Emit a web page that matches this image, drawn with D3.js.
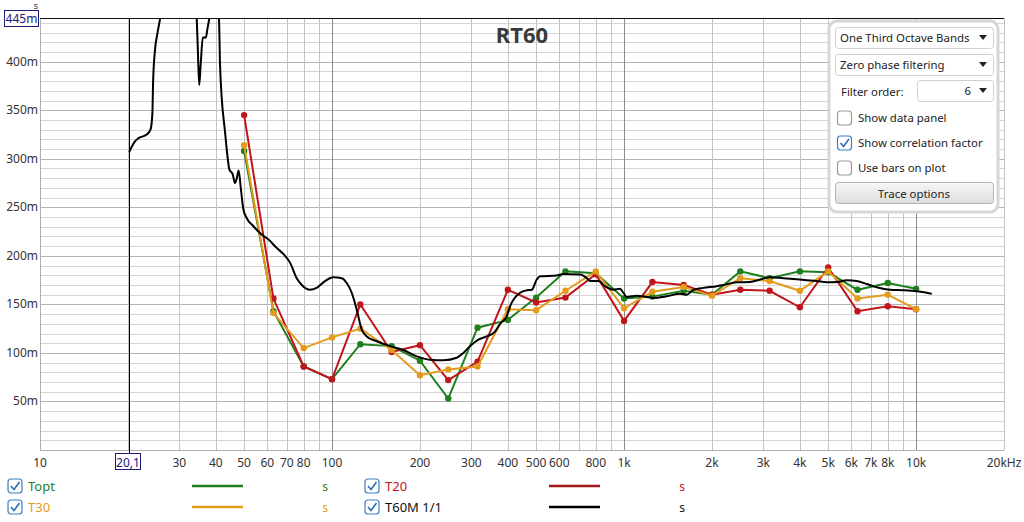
<!DOCTYPE html>
<html>
<head>
<meta charset="utf-8">
<script src="https://cdn.jsdelivr.net/npm/d3@7"></script>
<style>
  body { margin: 0; background: #fff; }
  svg { display: block; font-family: "Noto Sans", "DejaVu Sans", sans-serif; }
</style>
</head>
<body>
<div id="chart"></div>
<script>
// third octave bands
const bandFreqs = [50, 63, 80, 100, 125, 160, 200, 250, 315, 400, 500, 630, 800, 1000,
  1250, 1600, 2000, 2500, 3150, 4000, 5000, 6300, 8000, 10000];
const toptValues = [0.308, 0.143, 0.086, 0.073, 0.109, 0.107, 0.092, 0.053, 0.126, 0.134, 0.157, 0.184,
  0.182, 0.156, 0.158, 0.164, 0.160, 0.184, 0.177, 0.184, 0.183, 0.165, 0.172, 0.166];
const t20Values = [0.345, 0.156, 0.086, 0.073, 0.150, 0.101, 0.108, 0.072, 0.091, 0.165, 0.152, 0.157,
  0.181, 0.133, 0.173, 0.170, 0.160, 0.165, 0.164, 0.147, 0.188, 0.143, 0.148, 0.145];
const t30Values = [0.314, 0.141, 0.105, 0.116, 0.125, 0.103, 0.077, 0.083, 0.086, 0.145, 0.144, 0.164,
  0.184, 0.146, 0.163, 0.168, 0.159, 0.177, 0.174, 0.164, 0.184, 0.156, 0.160, 0.145];

// T60M curve (fine resolution)
const t60mFreqs = [20.2, 21.15, 21.7, 23.2, 23.9, 24.25, 24.4, 24.8, 25.2, 25.8, 27.9, 32.6, 34.4, 34.7,
  35.1, 35.5, 36.1, 37.0, 37.4, 38.0, 38.8, 40.1, 41.0, 41.35, 41.9, 43.0, 43.8, 44.5, 45.7, 46.5, 47.2,
  47.9, 48.7, 49.7, 51.0, 53.8, 57.4, 60.5, 64.7, 68.1, 71.8, 75.7, 78.8, 84.1, 88.6, 94.6, 101, 108,
  112.3, 116.8, 121.5, 126.4, 131.5, 142.3, 158, 175.5, 195, 216.6, 240.6, 267.4, 281.7, 296.9, 317,
  338.8, 361.6, 376.2, 396.6, 407, 440.4, 464.4, 483, 502.3, 515.6, 588.2, 619.6, 707, 745.5, 764.7,
  816.6, 860.9, 919, 968.9, 994.5, 1021, 1105, 1196, 1260, 1400, 1555, 1639, 1727, 1869, 2077, 2189,
  2432, 2701, 2923, 3162, 3513, 4006, 4569, 4946, 5351, 5790, 6265, 6780, 7335, 8147, 9046, 10050,
  10880, 11320];
const t60mValues = [0.307, 0.318, 0.321, 0.325, 0.330, 0.346, 0.380, 0.414, 0.428, 0.445, 0.52, 0.52,
  0.445, 0.414, 0.376, 0.397, 0.425, 0.425, 0.433, 0.445, 0.47, 0.47, 0.445, 0.397, 0.363, 0.328, 0.304,
  0.289, 0.284, 0.275, 0.280, 0.288, 0.270, 0.248, 0.239, 0.2305, 0.222, 0.217, 0.208, 0.202, 0.193,
  0.177, 0.170, 0.165, 0.167, 0.174, 0.178, 0.177, 0.172, 0.162, 0.1446, 0.124, 0.117, 0.112, 0.107,
  0.103, 0.0965, 0.093, 0.0924, 0.095, 0.100, 0.107, 0.1137, 0.117, 0.122, 0.130, 0.138, 0.148, 0.162,
  0.1645, 0.165, 0.1756, 0.179, 0.1797, 0.1814, 0.1807, 0.177, 0.174, 0.174, 0.1687, 0.165, 0.166, 0.162,
  0.1577, 0.159, 0.1577, 0.1567, 0.1584, 0.161, 0.160, 0.165, 0.167, 0.1687, 0.170, 0.1728, 0.173,
  0.1756, 0.178, 0.177, 0.1756, 0.174, 0.1728, 0.173, 0.1748, 0.174, 0.171, 0.1676, 0.165, 0.1645,
  0.1635, 0.162, 0.1608];

const xTickValues = [10, 30, 40, 50, 60, 70, 80, 100, 200, 300, 400, 500, 600, 800, 1000,
  2000, 3000, 4000, 5000, 6000, 7000, 8000, 10000, 20000];
const xTickLabels = ["10", "30", "40", "50", "60", "70", "80", "100", "200", "300", "400", "500", "600",
  "800", "1k", "2k", "3k", "4k", "5k", "6k", "7k", "8k", "10k", "20kHz"];
const yTickValues = [0.05, 0.1, 0.15, 0.2, 0.25, 0.3, 0.35, 0.4];
const yTickLabels = ["50m", "100m", "150m", "200m", "250m", "300m", "350m", "400m"];

const series = [
  {name: "Topt", values: toptValues, color: "#1f7f1f"},
  {name: "T20", values: t20Values, color: "#c0151b"},
  {name: "T30", values: t30Values, color: "#e39b1b"}
];

const width = 1024, height = 522;
const plotLeft = 40, plotRight = 1004, plotTop = 18, plotBottom = 450;

const x = d3.scaleLog().domain([10, 20000]).range([plotLeft, plotRight]);
const y = d3.scaleLinear().domain([0, 0.445]).range([plotBottom, plotTop]);

const svg = d3.select("#chart").append("svg")
  .attr("width", width)
  .attr("height", height);

const defs = svg.append("defs");
defs.append("clipPath").attr("id", "plotclip")
  .append("rect")
  .attr("x", plotLeft).attr("y", plotTop)
  .attr("width", plotRight - plotLeft).attr("height", plotBottom - plotTop);

// horizontal grid
svg.append("g").selectAll("line")
  .data(d3.range(1, 45).map(i => i / 100))
  .enter().append("line")
    .attr("x1", plotLeft).attr("x2", plotRight)
    .attr("y1", d => Math.round(y(d)) + 0.5)
    .attr("y2", d => Math.round(y(d)) + 0.5)
    .attr("stroke", d => Math.round(d * 100) % 5 === 0 ? "#b4b4b4" : "#d6d6d6")
    .attr("stroke-width", 1);

// vertical grid
const gridFreqs = x.ticks().filter(f => f > 10 && f < 20000);
svg.append("g").selectAll("line")
  .data(gridFreqs)
  .enter().append("line")
    .attr("x1", d => Math.round(x(d)) + 0.5)
    .attr("x2", d => Math.round(x(d)) + 0.5)
    .attr("y1", plotTop).attr("y2", plotBottom)
    .attr("stroke", d => [100, 1000, 10000].includes(d) ? "#8c8c8c" : "#c4c4c4")
    .attr("stroke-width", 1);

// frame
svg.append("line").attr("x1", plotLeft + 0.5).attr("x2", plotLeft + 0.5).attr("y1", plotTop).attr("y2", plotBottom)
  .attr("stroke", "#b0b0b0");
svg.append("line").attr("x1", plotRight + 0.5).attr("x2", plotRight + 0.5).attr("y1", plotTop).attr("y2", plotBottom)
  .attr("stroke", "#c4c4c4");
svg.append("line").attr("x1", plotLeft).attr("x2", plotRight).attr("y1", plotBottom + 0.5).attr("y2", plotBottom + 0.5)
  .attr("stroke", "#b0b0b0");
svg.append("line").attr("x1", plotLeft).attr("x2", plotRight).attr("y1", plotTop + 0.5).attr("y2", plotTop + 0.5)
  .attr("stroke", "#111");

// cursor line at 20.1 Hz
svg.append("line")
  .attr("x1", Math.round(x(20.1)) + 0.5).attr("x2", Math.round(x(20.1)) + 0.5)
  .attr("y1", plotTop).attr("y2", plotBottom + 3)
  .attr("stroke", "#000").attr("stroke-width", 1);

// y labels
svg.append("g").selectAll("text")
  .data(yTickValues)
  .enter().append("text")
    .attr("x", 38)
    .attr("y", d => y(d) + 4)
    .attr("text-anchor", "end")
    .attr("font-size", 12)
    .attr("fill", "#333")
    .text((d, i) => yTickLabels[i]);

svg.append("rect").attr("x", 4.5).attr("y", 10.5).attr("width", 34).attr("height", 16)
  .attr("fill", "#fff").attr("stroke", "#1b1b7a");
svg.append("text").attr("x", 21.5).attr("y", 23).attr("text-anchor", "middle")
  .attr("font-size", 12).attr("fill", "#1b1b7a").text("445m");
svg.append("text").attr("x", 36).attr("y", 9).attr("text-anchor", "middle")
  .attr("font-size", 9).attr("fill", "#333").text("s");

// x labels
svg.append("g").selectAll("text")
  .data(xTickValues)
  .enter().append("text")
    .attr("x", d => x(d))
    .attr("y", 467)
    .attr("text-anchor", "middle")
    .attr("font-size", 12)
    .attr("fill", "#333")
    .text((d, i) => xTickLabels[i]);

svg.append("rect").attr("x", 115.5).attr("y", 453.5).attr("width", 25).attr("height", 16)
  .attr("fill", "#fff").attr("stroke", "#1b1b7a");
svg.append("text").attr("x", 128).attr("y", 467).attr("text-anchor", "middle")
  .attr("font-size", 12).attr("fill", "#1b1b7a").text("20,1");

// title
svg.append("text").attr("x", 522).attr("y", 43).attr("text-anchor", "middle")
  .attr("font-size", 22).attr("font-weight", "bold").attr("fill", "#3a3a3a").text("RT60");

// traces
const plot = svg.append("g").attr("clip-path", "url(#plotclip)");

const line = d3.line()
  .x(d => x(d[0]))
  .y(d => y(d[1]));

series.forEach(s => {
  const pts = bandFreqs.map((f, i) => [f, s.values[i]]);
  plot.append("path")
    .datum(pts)
    .attr("fill", "none")
    .attr("stroke", s.color)
    .attr("stroke-width", 2)
    .attr("d", line);
  plot.append("g").selectAll("circle")
    .data(pts)
    .enter().append("circle")
      .attr("cx", d => x(d[0]))
      .attr("cy", d => y(d[1]))
      .attr("r", 3.2)
      .attr("fill", s.color);
});

plot.append("path")
  .datum(t60mFreqs.map((f, i) => [f, t60mValues[i]]))
  .attr("fill", "none")
  .attr("stroke", "#000")
  .attr("stroke-width", 2)
  .attr("stroke-linejoin", "round")
  .attr("d", line.curve(d3.curveMonotoneX));

// checkbox helper
const checkbox = (g, cx, cy, checked) => {
  g.append("rect")
    .attr("x", cx - 7).attr("y", cy - 7)
    .attr("width", 14).attr("height", 14).attr("rx", 3)
    .attr("fill", "#fff")
    .attr("stroke", checked ? "#3b7fc4" : "#9a9a9a")
    .attr("stroke-width", 1.2);
  if (checked) {
    g.append("path")
      .attr("d", `M${cx - 4},${cy} L${cx - 1},${cy + 3.5} L${cx + 4.5},${cy - 4}`)
      .attr("fill", "none")
      .attr("stroke", "#2a6db5")
      .attr("stroke-width", 1.6);
  }
};

// bottom legend
const legendItems = [
  {name: "Topt", color: "#1f7f1f", textColor: "#1f7f1f", col: 0, row: 0},
  {name: "T20", color: "#a4161a", textColor: "#c0151b", col: 1, row: 0},
  {name: "T30", color: "#e39b1b", textColor: "#e39b1b", col: 0, row: 1},
  {name: "T60M 1/1", color: "#000", textColor: "#111", col: 1, row: 1}
];
const legend = svg.append("g");
legendItems.forEach(d => {
  const ox = d.col * 357, cy = 486 + d.row * 21;
  checkbox(legend, 15 + ox, cy, true);
  legend.append("text").attr("x", 28 + ox).attr("y", cy + 5)
    .attr("font-size", 13).attr("fill", d.textColor).text(d.name);
  legend.append("line").attr("x1", 192 + ox).attr("x2", 243 + ox)
    .attr("y1", cy).attr("y2", cy)
    .attr("stroke", d.color).attr("stroke-width", 2.5);
  legend.append("text").attr("x", 325 + ox).attr("y", cy + 5)
    .attr("text-anchor", "middle")
    .attr("font-size", 12).attr("fill", d.textColor).text("s");
});

// control panel
const panel = svg.append("g").attr("font-size", 11.4);
panel.append("rect").attr("x", 829).attr("y", 21).attr("width", 169).attr("height", 191).attr("rx", 8)
  .attr("fill", "#fff").attr("stroke", "#d6d6d6").attr("stroke-width", 3);

const dropdown = (x0, y0, w, label, anchorEnd) => {
  panel.append("rect").attr("x", x0 + 0.5).attr("y", y0 + 0.5).attr("width", w).attr("height", 21).attr("rx", 3)
    .attr("fill", "#fff").attr("stroke", "#d0d0d0");
  panel.append("text")
    .attr("x", anchorEnd ? x0 + w - 22 : x0 + 5)
    .attr("y", y0 + 15)
    .attr("text-anchor", anchorEnd ? "end" : "start")
    .attr("fill", "#222").text(label);
  panel.append("path")
    .attr("d", `M${x0 + w - 14},${y0 + 8} l8,0 l-4,5 z`)
    .attr("fill", "#222");
};
dropdown(835, 27, 158, "One Third Octave Bands", false);
dropdown(835, 54, 158, "Zero phase filtering", false);
panel.append("text").attr("x", 841).attr("y", 96).attr("fill", "#222").text("Filter order:");
dropdown(917, 80, 76, "6", true);

const options = [
  {label: "Show data panel", checked: false, cy: 118},
  {label: "Show correlation factor", checked: true, cy: 143},
  {label: "Use bars on plot", checked: false, cy: 168}
];
options.forEach(o => {
  checkbox(panel, 844.5, o.cy, o.checked);
  panel.append("text").attr("x", 858).attr("y", o.cy + 4)
    .attr("fill", "#222").text(o.label);
});

const grad = defs.append("linearGradient").attr("id", "btn")
  .attr("x1", 0).attr("x2", 0).attr("y1", 0).attr("y2", 1);
grad.append("stop").attr("offset", "0%").attr("stop-color", "#f6f6f6");
grad.append("stop").attr("offset", "100%").attr("stop-color", "#dedede");
panel.append("rect").attr("x", 835.5).attr("y", 182.5).attr("width", 158).attr("height", 21).attr("rx", 3)
  .attr("fill", "url(#btn)").attr("stroke", "#b4b4b4");
panel.append("text").attr("x", 914).attr("y", 197.5).attr("text-anchor", "middle")
  .attr("fill", "#222").text("Trace options");
</script>
</body>
</html>
